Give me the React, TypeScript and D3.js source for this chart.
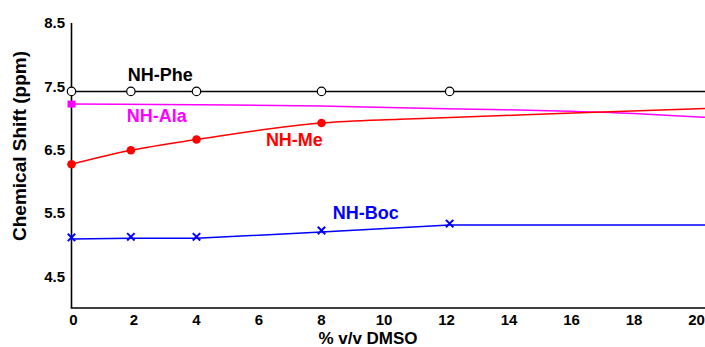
import React from "react";
import * as d3 from "d3";

const W = 705;
const H = 347;

// Measured x positions (% v/v DMSO)
const markerX = [0, 1.9, 4, 8, 12.1];
const pheValues = [7.42, 7.42, 7.42, 7.42, 7.42];
const meX = [0, 1.9, 4, 8];
const meValues = [6.27, 6.49, 6.66, 6.92];
const bocValues = [5.09, 5.1, 5.1, 5.2, 5.31];
const alaX = [0];
const alaValues = [7.22];

// fitted curves
const pheLineX = [0, 20.3];
const pheLineY = [7.42, 7.42];
const alaCurveX = [0, 4, 8, 10.5, 13.4, 15.6, 18, 20.3];
const alaCurveY = [7.22, 7.21, 7.19, 7.16, 7.135, 7.11, 7.07, 7.01];
const meCurveX = [0, 1.9, 4, 8, 10.5, 13.4, 15.6, 20.3];
const meCurveY = [6.27, 6.49, 6.66, 6.92, 6.98, 7.03, 7.07, 7.15];
const bocLineX = [0, 1.9, 4, 8, 12.1, 20.3];
const bocLineY = [5.09, 5.1, 5.1, 5.2, 5.31, 5.31];

const yTicks = [8.5, 7.5, 6.5, 5.5, 4.5];
const xTicks = [0, 2, 4, 6, 8, 10, 12, 14, 16, 18, 20];

const FONT = "'Liberation Sans', Arial, sans-serif";

export default function App() {
  const x = d3.scaleLinear().domain([0, 20]).range([71.5, 696.5]);
  const y = d3.scaleLinear().domain([4.0, 8.5]).range([308, 23]);

  const pts = (xs: number[], ys: number[]) => xs.map((v, i) => [v, ys[i]] as [number, number]);
  const straight = d3.line<[number, number]>().x((d) => x(d[0])).y((d) => y(d[1]));
  const smooth = d3
    .line<[number, number]>()
    .x((d) => x(d[0]))
    .y((d) => y(d[1]))
    .curve(d3.curveMonotoneX);

  const x0 = x(0);
  const xEnd = W;

  return (
    <svg
      width={W}
      height={H}
      style={{ position: "absolute", left: 0, top: 0, background: "#fff" }}
      fontFamily={FONT}
      fontWeight="bold"
    >
      {/* axes */}
      <line x1={x0} x2={x0} y1={y(8.5)} y2={y(4.0)} stroke="#000" strokeWidth={1.6} />
      <line x1={x0 - 0.8} x2={xEnd} y1={y(4.0)} y2={y(4.0)} stroke="#000" strokeWidth={1.6} />

      {yTicks.map((t) => (
        <text key={t} x={65} y={y(t)} dy="0.36em" textAnchor="end" fontSize={15} fill="#000">
          {t.toFixed(1)}
        </text>
      ))}
      {xTicks.map((t) => (
        <text key={t} x={x(t) + (t === 0 ? 2 : 0)} y={325} textAnchor="middle" fontSize={15} fill="#000">
          {t}
        </text>
      ))}

      <text
        transform={`translate(26,146) rotate(-90)`}
        textAnchor="middle"
        fontSize={19}
        fill="#000"
      >
        Chemical Shift (ppm)
      </text>
      <text x={368} y={344} textAnchor="middle" fontSize={17} fill="#000">
        % v/v DMSO
      </text>

      {/* lines */}
      <path d={straight(pts(pheLineX, pheLineY))!} fill="none" stroke="#000" strokeWidth={1.5} />
      <path d={smooth(pts(alaCurveX, alaCurveY))!} fill="none" stroke="#ff00ff" strokeWidth={1.5} />
      <path d={smooth(pts(meCurveX, meCurveY))!} fill="none" stroke="#ff0000" strokeWidth={1.5} />
      <path d={straight(pts(bocLineX, bocLineY))!} fill="none" stroke="#0000ff" strokeWidth={1.5} />

      {/* markers */}
      {markerX.map((v, i) => (
        <circle key={"p" + i} cx={x(v)} cy={y(pheValues[i])} r={4.2} fill="#fff" stroke="#000" strokeWidth={1.2} />
      ))}
      {alaX.map((v, i) => (
        <rect key={"a" + i} x={x(v) - 4} y={y(alaValues[i]) - 3.5} width={8} height={7} fill="#ff00ff" />
      ))}
      {meX.map((v, i) => (
        <circle key={"m" + i} cx={x(v)} cy={y(meValues[i])} r={4.3} fill="#ff0000" />
      ))}
      {markerX.map((v, i) => {
        const cx = x(v);
        const cy = y(bocValues[i]) - 1.5;
        const s = 3.7;
        return (
          <g key={"b" + i} stroke="#0000ff" strokeWidth={2}>
            <line x1={cx - s} x2={cx + s} y1={cy - s} y2={cy + s} />
            <line x1={cx - s} x2={cx + s} y1={cy + s} y2={cy - s} />
          </g>
        );
      })}

      {/* series labels */}
      <text x={x(1.8)} y={y(7.584)} fontSize={18} fill="#000">NH-Phe</text>
      <text x={x(1.77)} y={y(6.942)} fontSize={18} fill="#ff00ff">NH-Ala</text>
      <text x={x(6.22)} y={y(6.558)} fontSize={18} fill="#ff0000">NH-Me</text>
      <text x={x(8.36)} y={y(5.405)} fontSize={18} fill="#0000ff">NH-Boc</text>
    </svg>
  );
}
